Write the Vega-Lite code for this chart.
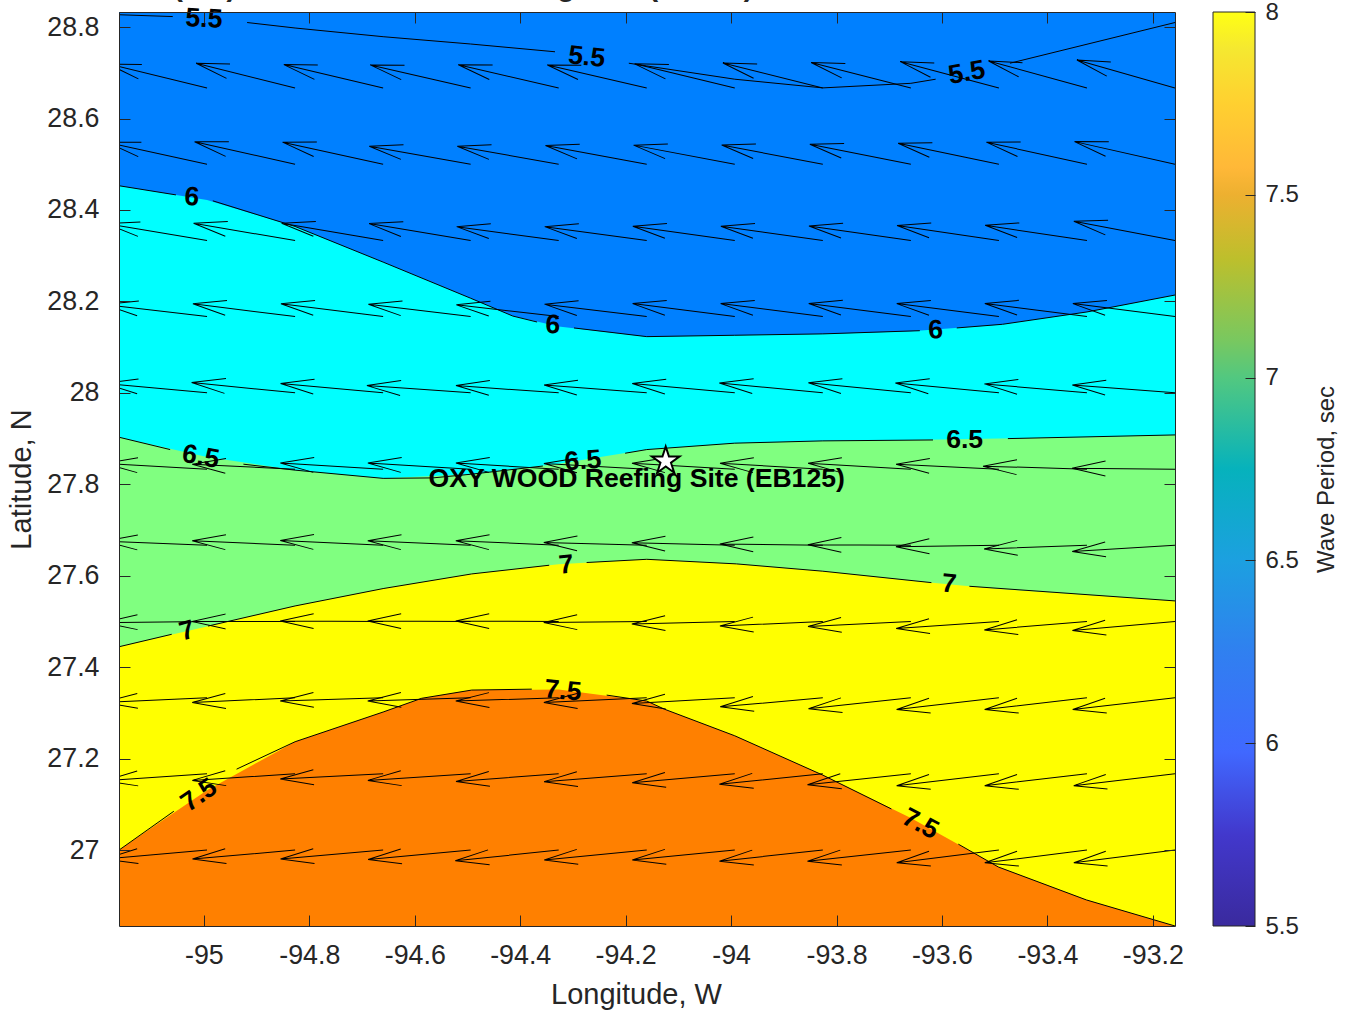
{"$schema":"https://vega.github.io/schema/vega-lite/v6.json","autosize":{"type":"none"},"width":1056,"height":914,"padding":{"left":119,"top":12,"right":181,"bottom":88},"background":"white","config":{"font":"Liberation Sans","view":{"stroke":null},"axis":{"grid":false,"domainColor":"#262626","tickColor":"#262626","labelColor":"#262626","titleColor":"#262626","domainWidth":1,"tickWidth":1,"labelFlush":false,"labelOverlap":false,"titleFontWeight":"normal"}},
"datasets":{
"fills":[
{"level":"5.5","lon":-95.161,"lat":28.833},{"level":"5.5","lon":-93.158,"lat":28.833},
{"level":"6","lon":-95.161,"lat":28.453},{"level":"6","lon":-94.994,"lat":28.422},{"level":"6","lon":-94.827,"lat":28.364},{"level":"6","lon":-94.66,"lat":28.286},{"level":"6","lon":-94.494,"lat":28.207},{"level":"6","lon":-94.414,"lat":28.168},{"level":"6","lon":-94.327,"lat":28.145},{"level":"6","lon":-94.16,"lat":28.123},{"level":"6","lon":-93.993,"lat":28.126},{"level":"6","lon":-93.826,"lat":28.129},{"level":"6","lon":-93.659,"lat":28.135},{"level":"6","lon":-93.492,"lat":28.149},{"level":"6","lon":-93.325,"lat":28.177},{"level":"6","lon":-93.158,"lat":28.214},
{"level":"6.5","lon":-95.161,"lat":27.903},{"level":"6.5","lon":-94.994,"lat":27.86},{"level":"6.5","lon":-94.827,"lat":27.831},{"level":"6.5","lon":-94.66,"lat":27.813},{"level":"6.5","lon":-94.494,"lat":27.822},{"level":"6.5","lon":-94.327,"lat":27.845},{"level":"6.5","lon":-94.16,"lat":27.876},{"level":"6.5","lon":-93.993,"lat":27.89},{"level":"6.5","lon":-93.826,"lat":27.895},{"level":"6.5","lon":-93.659,"lat":27.897},{"level":"6.5","lon":-93.492,"lat":27.9},{"level":"6.5","lon":-93.325,"lat":27.903},{"level":"6.5","lon":-93.158,"lat":27.908},
{"level":"7","lon":-95.161,"lat":27.445},{"level":"7","lon":-94.994,"lat":27.489},{"level":"7","lon":-94.827,"lat":27.534},{"level":"7","lon":-94.66,"lat":27.572},{"level":"7","lon":-94.494,"lat":27.604},{"level":"7","lon":-94.327,"lat":27.625},{"level":"7","lon":-94.16,"lat":27.636},{"level":"7","lon":-93.993,"lat":27.626},{"level":"7","lon":-93.826,"lat":27.61},{"level":"7","lon":-93.659,"lat":27.589},{"level":"7","lon":-93.492,"lat":27.571},{"level":"7","lon":-93.325,"lat":27.558},{"level":"7","lon":-93.158,"lat":27.545},
{"level":"7.5","lon":-95.161,"lat":27.0},{"level":"7.5","lon":-94.994,"lat":27.131},{"level":"7.5","lon":-94.827,"lat":27.237},{"level":"7.5","lon":-94.66,"lat":27.302},{"level":"7.5","lon":-94.587,"lat":27.332},{"level":"7.5","lon":-94.492,"lat":27.35},{"level":"7.5","lon":-94.327,"lat":27.351},{"level":"7.5","lon":-94.16,"lat":27.326},{"level":"7.5","lon":-94.126,"lat":27.308},{"level":"7.5","lon":-93.993,"lat":27.25},{"level":"7.5","lon":-93.826,"lat":27.164},{"level":"7.5","lon":-93.659,"lat":27.07},{"level":"7.5","lon":-93.492,"lat":26.963},{"level":"7.5","lon":-93.325,"lat":26.891},{"level":"7.5","lon":-93.158,"lat":26.834}],
"lines":[
{"seg":"5.5a","lon":-95.161,"lat":28.827},{"seg":"5.5a","lon":-95.059,"lat":28.823},
{"seg":"5.5b","lon":-94.918,"lat":28.81},{"seg":"5.5b","lon":-94.827,"lat":28.798},{"seg":"5.5b","lon":-94.66,"lat":28.779},{"seg":"5.5b","lon":-94.494,"lat":28.763},{"seg":"5.5b","lon":-94.334,"lat":28.746},
{"seg":"5.5c","lon":-94.194,"lat":28.721},{"seg":"5.5c","lon":-94.16,"lat":28.715},{"seg":"5.5c","lon":-93.993,"lat":28.686},{"seg":"5.5c","lon":-93.826,"lat":28.667},{"seg":"5.5c","lon":-93.659,"lat":28.677},{"seg":"5.5c","lon":-93.612,"lat":28.686},
{"seg":"5.5d","lon":-93.471,"lat":28.721},{"seg":"5.5d","lon":-93.158,"lat":28.81},
{"seg":"6a","lon":-95.161,"lat":28.453},{"seg":"6a","lon":-95.053,"lat":28.433},
{"seg":"6b","lon":-94.983,"lat":28.42},{"seg":"6b","lon":-94.827,"lat":28.364},{"seg":"6b","lon":-94.66,"lat":28.286},{"seg":"6b","lon":-94.494,"lat":28.207},{"seg":"6b","lon":-94.414,"lat":28.168},{"seg":"6b","lon":-94.368,"lat":28.155},
{"seg":"6c","lon":-94.298,"lat":28.142},{"seg":"6c","lon":-94.16,"lat":28.123},{"seg":"6c","lon":-93.993,"lat":28.126},{"seg":"6c","lon":-93.826,"lat":28.129},{"seg":"6c","lon":-93.642,"lat":28.136},
{"seg":"6d","lon":-93.572,"lat":28.142},{"seg":"6d","lon":-93.485,"lat":28.15},{"seg":"6d","lon":-93.325,"lat":28.177},{"seg":"6d","lon":-93.158,"lat":28.214},
{"seg":"6.5a","lon":-95.161,"lat":27.903},{"seg":"6.5a","lon":-95.064,"lat":27.876},
{"seg":"6.5b","lon":-94.925,"lat":27.844},{"seg":"6.5b","lon":-94.827,"lat":27.831},{"seg":"6.5b","lon":-94.66,"lat":27.813},{"seg":"6.5b","lon":-94.566,"lat":27.814},{"seg":"6.5b","lon":-94.494,"lat":27.822},{"seg":"6.5b","lon":-94.357,"lat":27.84},
{"seg":"6.5c","lon":-94.201,"lat":27.868},{"seg":"6.5c","lon":-94.16,"lat":27.876},{"seg":"6.5c","lon":-93.993,"lat":27.89},{"seg":"6.5c","lon":-93.826,"lat":27.895},{"seg":"6.5c","lon":-93.617,"lat":27.897},
{"seg":"6.5d","lon":-93.475,"lat":27.9},{"seg":"6.5d","lon":-93.158,"lat":27.908},
{"seg":"7a","lon":-95.16,"lat":27.445},{"seg":"7a","lon":-95.061,"lat":27.472},
{"seg":"7b","lon":-94.992,"lat":27.49},{"seg":"7b","lon":-94.827,"lat":27.534},{"seg":"7b","lon":-94.66,"lat":27.572},{"seg":"7b","lon":-94.492,"lat":27.604},{"seg":"7b","lon":-94.345,"lat":27.623},
{"seg":"7c","lon":-94.274,"lat":27.629},{"seg":"7c","lon":-94.16,"lat":27.636},{"seg":"7c","lon":-93.99,"lat":27.626},{"seg":"7c","lon":-93.826,"lat":27.61},{"seg":"7c","lon":-93.62,"lat":27.585},
{"seg":"7d","lon":-93.548,"lat":27.577},{"seg":"7d","lon":-93.158,"lat":27.545},
{"seg":"7.5a","lon":-95.161,"lat":27.0},{"seg":"7.5a","lon":-95.057,"lat":27.085},
{"seg":"7.5b","lon":-94.938,"lat":27.177},{"seg":"7.5b","lon":-94.827,"lat":27.237},{"seg":"7.5b","lon":-94.66,"lat":27.302},{"seg":"7.5b","lon":-94.587,"lat":27.332},{"seg":"7.5b","lon":-94.492,"lat":27.35},{"seg":"7.5b","lon":-94.378,"lat":27.352},
{"seg":"7.5c","lon":-94.236,"lat":27.339},{"seg":"7.5c","lon":-94.16,"lat":27.326},{"seg":"7.5c","lon":-94.126,"lat":27.308},{"seg":"7.5c","lon":-93.993,"lat":27.25},{"seg":"7.5c","lon":-93.826,"lat":27.164},{"seg":"7.5c","lon":-93.696,"lat":27.09},
{"seg":"7.5d","lon":-93.569,"lat":27.013},{"seg":"7.5d","lon":-93.493,"lat":26.963},{"seg":"7.5d","lon":-93.326,"lat":26.891},{"seg":"7.5d","lon":-93.158,"lat":26.834}],
"labels":[
{"label":"5.5","lon":-95.0,"lat":28.818,"rot":3},{"label":"5.5","lon":-94.274,"lat":28.734,"rot":6},{"label":"5.5","lon":-93.553,"lat":28.7,"rot":-10},
{"label":"6","lon":-95.023,"lat":28.428,"rot":5},{"label":"6","lon":-94.338,"lat":28.148,"rot":3},{"label":"6","lon":-93.612,"lat":28.137,"rot":-2},
{"label":"6.5","lon":-95.006,"lat":27.86,"rot":10},{"label":"6.5","lon":-94.281,"lat":27.851,"rot":-5},{"label":"6.5","lon":-93.557,"lat":27.897,"rot":0},
{"label":"7","lon":-95.032,"lat":27.479,"rot":-15},{"label":"7","lon":-94.313,"lat":27.623,"rot":-5},{"label":"7","lon":-93.587,"lat":27.582,"rot":6},
{"label":"7.5","lon":-95.009,"lat":27.12,"rot":-35},{"label":"7.5","lon":-94.319,"lat":27.348,"rot":5},{"label":"7.5","lon":-93.641,"lat":27.057,"rot":28}],
"arrows":[
{"lon":-94.994,"lat":28.667,"dir":13.6,"speed":1.02},{"lon":-94.827,"lat":28.667,"dir":14.0,"speed":1.02},{"lon":-94.66,"lat":28.667,"dir":13.2,"speed":1.02},{"lon":-94.494,"lat":28.667,"dir":12.9,"speed":1.03},{"lon":-94.327,"lat":28.667,"dir":13.0,"speed":1.03},{"lon":-94.16,"lat":28.667,"dir":13.0,"speed":1.02},{"lon":-93.993,"lat":28.667,"dir":13.5,"speed":1.03},{"lon":-93.826,"lat":28.667,"dir":14.0,"speed":1.03},{"lon":-93.659,"lat":28.667,"dir":14.3,"speed":1.03},{"lon":-93.492,"lat":28.667,"dir":14.9,"speed":1.02},{"lon":-93.325,"lat":28.667,"dir":15.3,"speed":1.02},{"lon":-93.158,"lat":28.667,"dir":15.9,"speed":1.02},
{"lon":-94.994,"lat":28.5,"dir":12.4,"speed":1.02},{"lon":-94.827,"lat":28.5,"dir":12.6,"speed":1.03},{"lon":-94.66,"lat":28.5,"dir":12.4,"speed":1.03},{"lon":-94.494,"lat":28.5,"dir":10.1,"speed":1.03},{"lon":-94.327,"lat":28.5,"dir":10.1,"speed":1.03},{"lon":-94.16,"lat":28.5,"dir":10.5,"speed":1.03},{"lon":-93.993,"lat":28.5,"dir":10.7,"speed":1.03},{"lon":-93.826,"lat":28.5,"dir":10.8,"speed":1.03},{"lon":-93.659,"lat":28.5,"dir":11.2,"speed":1.03},{"lon":-93.492,"lat":28.5,"dir":11.8,"speed":1.03},{"lon":-93.325,"lat":28.5,"dir":12.4,"speed":1.03},{"lon":-93.158,"lat":28.5,"dir":12.7,"speed":1.03},
{"lon":-94.994,"lat":28.333,"dir":9.6,"speed":1.02},{"lon":-94.827,"lat":28.333,"dir":9.7,"speed":1.03},{"lon":-94.66,"lat":28.333,"dir":9.7,"speed":1.03},{"lon":-94.494,"lat":28.333,"dir":9.5,"speed":1.03},{"lon":-94.327,"lat":28.333,"dir":7.8,"speed":1.03},{"lon":-94.16,"lat":28.333,"dir":7.8,"speed":1.03},{"lon":-93.993,"lat":28.333,"dir":8.0,"speed":1.03},{"lon":-93.826,"lat":28.333,"dir":8.0,"speed":1.03},{"lon":-93.659,"lat":28.333,"dir":8.2,"speed":1.03},{"lon":-93.492,"lat":28.333,"dir":8.4,"speed":1.03},{"lon":-93.325,"lat":28.333,"dir":8.6,"speed":1.03},{"lon":-93.158,"lat":28.333,"dir":10.8,"speed":1.03},
{"lon":-94.994,"lat":28.167,"dir":6.7,"speed":1.03},{"lon":-94.827,"lat":28.167,"dir":7.1,"speed":1.03},{"lon":-94.66,"lat":28.167,"dir":7.1,"speed":1.03},{"lon":-94.494,"lat":28.167,"dir":6.8,"speed":1.03},{"lon":-94.327,"lat":28.167,"dir":6.5,"speed":1.03},{"lon":-94.16,"lat":28.167,"dir":6.9,"speed":1.03},{"lon":-93.993,"lat":28.167,"dir":7.2,"speed":1.03},{"lon":-93.826,"lat":28.167,"dir":7.2,"speed":1.03},{"lon":-93.659,"lat":28.167,"dir":7.3,"speed":1.03},{"lon":-93.492,"lat":28.167,"dir":7.2,"speed":1.03},{"lon":-93.325,"lat":28.167,"dir":7.3,"speed":1.03},{"lon":-93.158,"lat":28.167,"dir":7.2,"speed":1.03},
{"lon":-94.994,"lat":28.0,"dir":5.3,"speed":1.03},{"lon":-94.827,"lat":28.0,"dir":5.7,"speed":1.04},{"lon":-94.66,"lat":28.0,"dir":5.2,"speed":1.03},{"lon":-94.494,"lat":28.0,"dir":4.0,"speed":1.04},{"lon":-94.327,"lat":28.0,"dir":4.1,"speed":1.03},{"lon":-94.16,"lat":28.0,"dir":4.4,"speed":1.03},{"lon":-93.993,"lat":28.0,"dir":5.2,"speed":1.03},{"lon":-93.826,"lat":28.0,"dir":5.5,"speed":1.04},{"lon":-93.659,"lat":28.0,"dir":5.6,"speed":1.03},{"lon":-93.492,"lat":28.0,"dir":5.4,"speed":1.04},{"lon":-93.325,"lat":28.0,"dir":5.0,"speed":1.03},{"lon":-93.158,"lat":28.0,"dir":4.4,"speed":1.03},
{"lon":-94.994,"lat":27.833,"dir":3.3,"speed":1.03},{"lon":-94.827,"lat":27.833,"dir":2.8,"speed":1.03},{"lon":-94.66,"lat":27.833,"dir":3.5,"speed":1.03},{"lon":-94.494,"lat":27.833,"dir":3.5,"speed":1.03},{"lon":-94.327,"lat":27.833,"dir":3.5,"speed":1.03},{"lon":-94.16,"lat":27.833,"dir":3.2,"speed":1.03},{"lon":-93.993,"lat":27.833,"dir":3.3,"speed":1.03},{"lon":-93.826,"lat":27.833,"dir":3.3,"speed":1.03},{"lon":-93.659,"lat":27.833,"dir":3.3,"speed":1.03},{"lon":-93.492,"lat":27.833,"dir":2.8,"speed":1.03},{"lon":-93.325,"lat":27.833,"dir":1.7,"speed":1.04},{"lon":-93.158,"lat":27.833,"dir":0.6,"speed":1.03},
{"lon":-94.994,"lat":27.667,"dir":2.2,"speed":1.03},{"lon":-94.827,"lat":27.667,"dir":2.4,"speed":1.03},{"lon":-94.66,"lat":27.667,"dir":2.6,"speed":1.03},{"lon":-94.494,"lat":27.667,"dir":2.4,"speed":1.03},{"lon":-94.327,"lat":27.667,"dir":2.4,"speed":1.03},{"lon":-94.16,"lat":27.667,"dir":1.5,"speed":1.03},{"lon":-93.993,"lat":27.667,"dir":1.3,"speed":1.03},{"lon":-93.826,"lat":27.667,"dir":0.6,"speed":1.03},{"lon":-93.659,"lat":27.667,"dir":0.2,"speed":1.03},{"lon":-93.492,"lat":27.667,"dir":-0.9,"speed":1.03},{"lon":-93.325,"lat":27.667,"dir":-2.2,"speed":1.03},{"lon":-93.158,"lat":27.667,"dir":-3.5,"speed":1.03},
{"lon":-94.994,"lat":27.5,"dir":-0.6,"speed":1.03},{"lon":-94.827,"lat":27.5,"dir":0.0,"speed":1.03},{"lon":-94.66,"lat":27.5,"dir":0.3,"speed":1.03},{"lon":-94.494,"lat":27.5,"dir":0.3,"speed":1.03},{"lon":-94.327,"lat":27.5,"dir":0.3,"speed":1.03},{"lon":-94.16,"lat":27.5,"dir":-0.6,"speed":1.03},{"lon":-93.993,"lat":27.5,"dir":-1.4,"speed":1.03},{"lon":-93.826,"lat":27.5,"dir":-2.5,"speed":1.03},{"lon":-93.659,"lat":27.5,"dir":-2.8,"speed":1.03},{"lon":-93.492,"lat":27.5,"dir":-3.9,"speed":1.03},{"lon":-93.325,"lat":27.5,"dir":-4.7,"speed":1.03},{"lon":-93.158,"lat":27.5,"dir":-5.0,"speed":1.03},
{"lon":-94.994,"lat":27.333,"dir":-2.5,"speed":1.03},{"lon":-94.827,"lat":27.333,"dir":-2.6,"speed":1.03},{"lon":-94.66,"lat":27.333,"dir":-1.7,"speed":1.03},{"lon":-94.494,"lat":27.333,"dir":-1.7,"speed":1.03},{"lon":-94.327,"lat":27.333,"dir":-1.8,"speed":1.03},{"lon":-94.16,"lat":27.333,"dir":-2.6,"speed":1.03},{"lon":-93.993,"lat":27.333,"dir":-3.1,"speed":1.03},{"lon":-93.826,"lat":27.333,"dir":-5.0,"speed":1.03},{"lon":-93.659,"lat":27.333,"dir":-6.1,"speed":1.03},{"lon":-93.492,"lat":27.333,"dir":-6.5,"speed":1.03},{"lon":-93.325,"lat":27.333,"dir":-6.5,"speed":1.03},{"lon":-93.158,"lat":27.333,"dir":-6.5,"speed":1.03},
{"lon":-94.994,"lat":27.167,"dir":-3.9,"speed":1.03},{"lon":-94.827,"lat":27.167,"dir":-3.7,"speed":1.03},{"lon":-94.66,"lat":27.167,"dir":-2.9,"speed":1.03},{"lon":-94.494,"lat":27.167,"dir":-3.7,"speed":1.03},{"lon":-94.327,"lat":27.167,"dir":-4.3,"speed":1.03},{"lon":-94.16,"lat":27.167,"dir":-4.4,"speed":1.03},{"lon":-93.993,"lat":27.167,"dir":-5.0,"speed":1.03},{"lon":-93.826,"lat":27.167,"dir":-5.8,"speed":1.04},{"lon":-93.659,"lat":27.167,"dir":-6.1,"speed":1.04},{"lon":-93.492,"lat":27.167,"dir":-6.7,"speed":1.03},{"lon":-93.325,"lat":27.167,"dir":-6.7,"speed":1.03},{"lon":-93.158,"lat":27.167,"dir":-6.7,"speed":1.02},
{"lon":-94.994,"lat":27.0,"dir":-5.0,"speed":1.03},{"lon":-94.827,"lat":27.0,"dir":-5.0,"speed":1.03},{"lon":-94.66,"lat":27.0,"dir":-5.0,"speed":1.03},{"lon":-94.494,"lat":27.0,"dir":-5.2,"speed":1.03},{"lon":-94.327,"lat":27.0,"dir":-5.9,"speed":1.04},{"lon":-94.16,"lat":27.0,"dir":-5.5,"speed":1.03},{"lon":-93.993,"lat":27.0,"dir":-5.5,"speed":1.03},{"lon":-93.826,"lat":27.0,"dir":-6.1,"speed":1.04},{"lon":-93.659,"lat":27.0,"dir":-6.1,"speed":1.04},{"lon":-93.492,"lat":27.0,"dir":-7.1,"speed":1.03},{"lon":-93.325,"lat":27.0,"dir":-7.1,"speed":1.03},{"lon":-93.158,"lat":27.0,"dir":-7.1,"speed":1.02}]
},
"resolve":{"scale":{"x":"independent","y":"independent"},"axis":{"x":"independent","y":"independent"}},
"layer":[
{"data":{"name":"fills"},"mark":{"type":"area","clip":true,"interpolate":"linear"},"encoding":{
"x":{"field":"lon","type":"quantitative","scale":{"domain":[-95.161,-93.158],"nice":false,"zero":false},"axis":{"orient":"bottom","zindex":1,"values":[-95,-94.8,-94.6,-94.4,-94.2,-94,-93.8,-93.6,-93.4,-93.2],"labelExpr":"''+round(datum.value*10)/10","tickSize":-11,"labelPadding":27,"labelFontSize":26.8,"title":"Longitude, W","titleFontSize":29,"titlePadding":12,"titleX":517}},
"y":{"field":"lat","type":"quantitative","scale":{"domain":[26.834,28.833],"nice":false,"zero":false},"axis":{"orient":"left","zindex":1,"values":[27,27.2,27.4,27.6,27.8,28,28.2,28.4,28.6,28.8],"labelExpr":"''+round(datum.value*10)/10","tickSize":-11,"labelPadding":31,"labelFontSize":26.8,"title":"Latitude, N","titleFontSize":29,"titlePadding":10,"titleY":467}},
"y2":{"datum":26.834},
"color":{"field":"level","type":"nominal","scale":{"domain":["5.5","6","6.5","7","7.5"],"range":["#0080FF","#00FFFF","#80FF80","#FFFF00","#FF8000"]},"legend":null}}},
{"data":{"name":"lines"},"mark":{"type":"line","clip":true,"color":"black","strokeWidth":1},"encoding":{
"x":{"field":"lon","type":"quantitative","scale":{"domain":[-95.161,-93.158],"nice":false,"zero":false},"axis":null},
"y":{"field":"lat","type":"quantitative","scale":{"domain":[26.834,28.833],"nice":false,"zero":false},"axis":null},
"detail":{"field":"seg","type":"nominal"}}},
{"data":{"name":"arrows"},"mark":{"type":"point","clip":true,"shape":"M0,0L-1,0L-0.675,-0.072M-1,0L-0.675,0.072","filled":false,"stroke":"black","strokeWidth":1,"opacity":1},"encoding":{
"x":{"field":"lon","type":"quantitative","scale":{"domain":[-95.161,-93.158],"nice":false,"zero":false},"axis":{"orient":"top","zindex":1,"values":[-95,-94.8,-94.6,-94.4,-94.2,-94,-93.8,-93.6,-93.4,-93.2],"tickSize":-11,"labels":false,"title":null}},
"y":{"field":"lat","type":"quantitative","scale":{"domain":[26.834,28.833],"nice":false,"zero":false},"axis":{"orient":"right","zindex":1,"values":[27,27.2,27.4,27.6,27.8,28,28.2,28.4,28.6,28.8],"tickSize":-11,"labels":false,"title":null}},
"angle":{"field":"dir","type":"quantitative","scale":null},
"size":{"field":"speed","type":"quantitative","scale":{"type":"pow","exponent":2,"domain":[0,1.2],"range":[0,57600]},"legend":null}}},
{"data":{"name":"labels"},"mark":{"type":"text","fontWeight":"bold","fontSize":26.6,"color":"black","align":"center","baseline":"middle"},"encoding":{
"x":{"field":"lon","type":"quantitative","scale":{"domain":[-95.161,-93.158],"nice":false,"zero":false},"axis":null},
"y":{"field":"lat","type":"quantitative","scale":{"domain":[26.834,28.833],"nice":false,"zero":false},"axis":null},
"angle":{"field":"rot","type":"quantitative","scale":null},
"text":{"field":"label","type":"nominal"}}},
{"data":{"values":[{"lon":-94.124,"lat":27.851}]},"mark":{"type":"point","shape":"M0,-1L0.2245,-0.309L0.951,-0.309L0.363,0.118L0.588,0.809L0,0.382L-0.588,0.809L-0.363,0.118L-0.951,-0.309L-0.2245,-0.309Z","filled":true,"fill":"white","stroke":"black","strokeWidth":2,"opacity":1,"size":840},"encoding":{
"x":{"field":"lon","type":"quantitative","scale":{"domain":[-95.161,-93.158],"nice":false,"zero":false},"axis":null},
"y":{"field":"lat","type":"quantitative","scale":{"domain":[26.834,28.833],"nice":false,"zero":false},"axis":null}}},
{"data":{"values":[{"lon":-94.179,"lat":27.811,"label":"OXY WOOD Reefing Site (EB125)"}]},"mark":{"type":"text","fontWeight":"bold","fontSize":26.6,"color":"black","align":"center","baseline":"middle"},"encoding":{
"x":{"field":"lon","type":"quantitative","scale":{"domain":[-95.161,-93.158],"nice":false,"zero":false},"axis":null},
"y":{"field":"lat","type":"quantitative","scale":{"domain":[26.834,28.833],"nice":false,"zero":false},"axis":null},
"text":{"field":"label","type":"nominal"}}},
{"data":{"values":[{"lon":-95.214,"lat":28.868,"label":"Mean (Tm) Wave Period and during Test (March)"}]},"mark":{"type":"text","fontWeight":"bold","fontSize":29,"color":"#262626","align":"left","baseline":"alphabetic","clip":false},"encoding":{
"x":{"field":"lon","type":"quantitative","scale":{"domain":[-95.161,-93.158],"nice":false,"zero":false},"axis":null},
"y":{"field":"lat","type":"quantitative","scale":{"domain":[26.834,28.833],"nice":false,"zero":false},"axis":null},
"text":{"field":"label","type":"nominal"}}},
{"data":{"values":[{"from":0,"to":1,"lo":5.5,"hi":8}]},"mark":{"type":"rect","stroke":"#262626","strokeWidth":1,"fill":{"gradient":"linear","x1":0,"y1":1,"x2":0,"y2":0,"stops":[{"offset":0,"color":"#3A2A9E"},{"offset":0.1,"color":"#4238CC"},{"offset":0.19,"color":"#4068FF"},{"offset":0.3,"color":"#3080F0"},{"offset":0.4,"color":"#1CA0E0"},{"offset":0.5,"color":"#06B2BC"},{"offset":0.6,"color":"#52C880"},{"offset":0.64,"color":"#78C860"},{"offset":0.73,"color":"#BDBF2C"},{"offset":0.8,"color":"#EDB030"},{"offset":0.83,"color":"#FFB838"},{"offset":0.9,"color":"#FFD030"},{"offset":0.96,"color":"#F5E830"},{"offset":1,"color":"#FFFF14"}]}},"encoding":{
"x":{"field":"from","type":"quantitative","scale":{"domain":[0,1],"range":[1094,1136],"nice":false,"zero":false},"axis":null},
"x2":{"field":"to"},
"y":{"field":"lo","type":"quantitative","scale":{"domain":[5.5,8],"nice":false,"zero":false},"axis":{"orient":"right","offset":80,"zindex":1,"values":[5.5,6,6.5,7,7.5,8],"labelExpr":"''+datum.value","tickSize":-10,"labelPadding":20,"labelFontSize":24,"domain":false,"title":"Wave Period, sec","titleFontSize":24,"titleAngle":270,"titlePadding":40,"titleY":467}},
"y2":{"field":"hi"}}}
]}
